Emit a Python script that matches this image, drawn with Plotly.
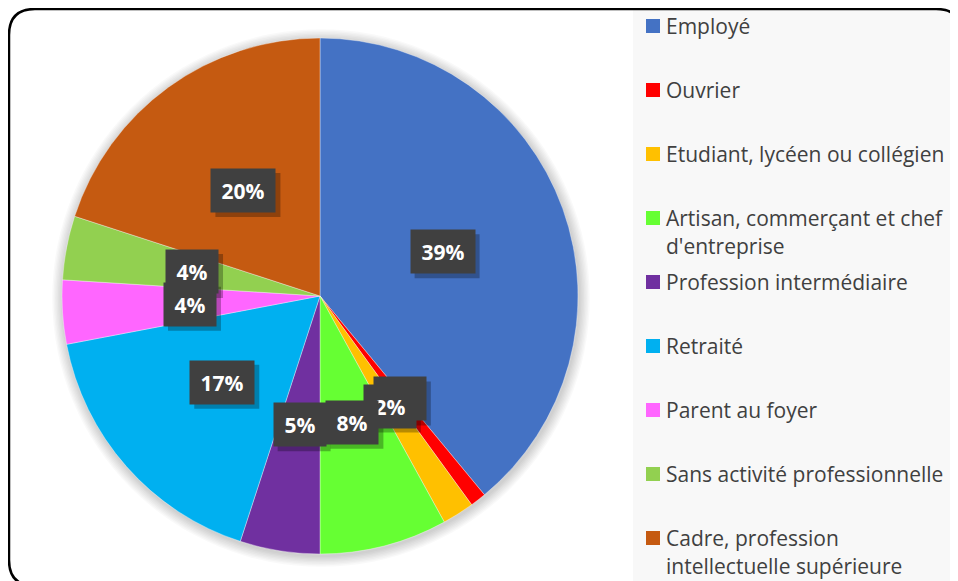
import math
import plotly.graph_objects as go

W, H = 950, 573   # figure size; page body adds an 8px margin
OFF = 8

categories = ["Employé", "Ouvrier", "Etudiant, lycéen ou collégien",
              "Artisan, commerçant et chef d'entreprise", "Profession intermédiaire",
              "Retraité", "Parent au foyer", "Sans activité professionnelle",
              "Cadre, profession intellectuelle supérieure"]
legend_lines = [["Employé"], ["Ouvrier"], ["Etudiant, lycéen ou collégien"],
                ["Artisan, commerçant et chef", "d'entreprise"], ["Profession intermédiaire"],
                ["Retraité"], ["Parent au foyer"], ["Sans activité professionnelle"],
                ["Cadre, profession", "intellectuelle supérieure"]]
values = [39, 1, 2, 8, 5, 17, 4, 4, 20]
colors = ["#4472C4", "#FF0000", "#FFC000", "#66FF33", "#7030A0",
          "#00B0F0", "#FF66FF", "#92D050", "#C55A11"]

# pixel geometry (window coordinates)
CX, CY, R = 320, 296, 258


def px(x):
    return (x - OFF) / W


def py(y):
    return 1 - (y - OFF) / H


fig = go.Figure()
fig.add_trace(go.Pie(
    labels=categories, values=values, sort=False, direction="clockwise", rotation=0,
    marker=dict(colors=colors, line=dict(color="rgba(255,255,255,0.45)", width=0.8)),
    textinfo="none", showlegend=False,
    domain=dict(x=[px(CX - R), px(CX + R)], y=[py(CY + R), py(CY - R)]),
))

shapes = []
# legend background
shapes.append(dict(type="rect", xref="paper", yref="paper", x0=px(633), x1=px(962),
                   y0=py(590), y1=py(10), fillcolor="#F8F8F8", line=dict(width=0), layer="below"))
# soft pie shadow
for k in range(8):
    rr = R + 1 + k * 1.4
    shapes.append(dict(type="circle", xref="paper", yref="paper",
                       x0=px(CX + 1 - rr), x1=px(CX + 1 + rr),
                       y0=py(CY + 2 + rr), y1=py(CY + 2 - rr),
                       fillcolor="rgba(0,0,0,0.022)", line=dict(width=0), layer="below"))
# rounded outer frame
L, T, Rt, B, rad = 9, 9, 962, 586, 26
path = (f"M {px(L)},{py(T + rad)} Q {px(L)},{py(T)} {px(L + rad)},{py(T)} "
        f"L {px(Rt - rad)},{py(T)} Q {px(Rt)},{py(T)} {px(Rt)},{py(T + rad)} "
        f"L {px(Rt)},{py(B - rad)} Q {px(Rt)},{py(B)} {px(Rt - rad)},{py(B)} "
        f"L {px(L + rad)},{py(B)} Q {px(L)},{py(B)} {px(L)},{py(B - rad)} Z")
shapes.append(dict(type="path", xref="paper", yref="paper", path=path,
                   line=dict(color="#000000", width=2.5)))

annotations = []
# data labels at half radius, slice mid-angles
total = sum(values)
cum = 0
PAD, BH = 7, 29
for v in values:
    mid = (cum + v / 2) / total * 2 * math.pi
    cum += v
    lx = CX + 0.505 * R * math.sin(mid)
    ly = CY - 0.505 * R * math.cos(mid)
    txt = f"{v}%"
    wbox = 14 + 12 * len(txt)
    hw, hh = wbox / 2 + PAD, BH / 2 + PAD
    # drop shadow of the label box
    shapes.append(dict(type="rect", xref="paper", yref="paper",
                       x0=px(lx - hw + 4), x1=px(lx + hw + 5),
                       y0=py(ly + hh + 5), y1=py(ly - hh + 4),
                       fillcolor="rgba(0,0,0,0.28)", line=dict(width=0)))
    annotations.append(dict(
        x=px(lx), y=py(ly), xref="paper", yref="paper", text=txt,
        showarrow=False, xanchor="center", yanchor="middle",
        font=dict(family="Open Sans", size=21, color="#FFFFFF", weight="bold"),
        bgcolor="#404040", borderpad=PAD, width=wbox, height=BH))

# manual legend
y0, step, lstep = 26, 64, 28
for i, (lines, col) in enumerate(zip(legend_lines, colors)):
    yc = y0 + i * step
    shapes.append(dict(type="rect", xref="paper", yref="paper",
                       x0=px(646), x1=px(660), y0=py(yc + 7), y1=py(yc - 7),
                       fillcolor=col, line=dict(width=0)))
    for j, t in enumerate(lines):
        annotations.append(dict(
            x=px(664), y=py(yc + j * lstep), xref="paper", yref="paper", text=t,
            showarrow=False, xanchor="left", yanchor="middle",
            font=dict(family="Open Sans", size=21, color="#404040")))

fig.update_layout(
    width=W, height=H, margin=dict(l=0, r=0, t=0, b=0),
    paper_bgcolor="#FFFFFF", plot_bgcolor="#FFFFFF",
    shapes=shapes, annotations=annotations,
)
fig.write_html("out.html")
